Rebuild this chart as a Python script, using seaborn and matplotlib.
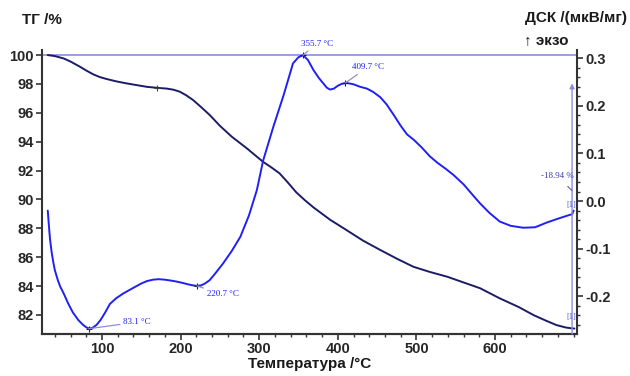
import numpy as np
import pandas as pd
import seaborn as sns
import matplotlib.pyplot as plt
from matplotlib.ticker import MultipleLocator, FormatStrFormatter

# --- данные ---
tg_temp = [31, 40, 51, 60, 72, 80, 89, 97, 106, 118, 131, 144, 157, 170, 182,
           191, 199, 207, 216, 226, 237, 250, 265, 284, 305, 316, 326, 336, 347,
           358, 369, 390, 411, 432, 454, 475, 496, 517, 539, 560, 581, 606, 630,
           649, 665, 678, 690, 698, 701]
tg_mass = [100.0, 99.93, 99.77, 99.55, 99.19, 98.93, 98.66, 98.48, 98.34, 98.18,
           98.04, 97.92, 97.8, 97.73, 97.68, 97.6, 97.46, 97.22, 96.88, 96.4,
           95.85, 95.1, 94.35, 93.55, 92.6, 92.2, 91.8, 91.2, 90.5, 89.95, 89.45,
           88.6, 87.88, 87.15, 86.5, 85.9, 85.34, 84.98, 84.65, 84.25, 83.85,
           83.15, 82.55, 81.99, 81.6, 81.3, 81.13, 81.07, 81.06]

dsc_temp = [31, 32, 33, 34, 36, 38, 40, 44, 47, 51, 57, 63, 70, 76, 80, 84, 88,
            93, 98, 104, 110, 118, 127, 140, 150, 157, 165, 172, 180, 188, 195,
            203, 210, 216, 221, 226, 231, 237, 245, 254, 265, 276, 287, 297, 305,
            318, 331, 343, 350, 356, 362, 369, 376, 382, 386, 390, 395, 400, 405,
            411, 420, 428, 437, 445, 454, 462, 471, 480, 488, 497, 507, 517, 527,
            537, 547, 560, 572, 581, 593, 606, 620, 636, 651, 666, 680, 695, 698,
            700]
dsc_val = [-0.020, -0.042, -0.063, -0.082, -0.108, -0.128, -0.145, -0.167,
           -0.180, -0.193, -0.215, -0.234, -0.250, -0.260, -0.265, -0.268,
           -0.266, -0.260, -0.250, -0.234, -0.216, -0.204, -0.194, -0.182,
           -0.173, -0.168, -0.165, -0.164, -0.165, -0.167, -0.169, -0.172,
           -0.175, -0.177, -0.178, -0.177, -0.173, -0.166, -0.150, -0.131,
           -0.105, -0.075, -0.030, 0.023, 0.085, 0.156, 0.222, 0.289, 0.302,
           0.306, 0.296, 0.275, 0.258, 0.246, 0.238, 0.234, 0.236, 0.242,
           0.246, 0.248, 0.245, 0.240, 0.236, 0.229, 0.218, 0.203, 0.181,
           0.158, 0.140, 0.128, 0.112, 0.094, 0.080, 0.068, 0.055, 0.035,
           0.012, -0.005, -0.025, -0.043, -0.052, -0.056, -0.055, -0.045,
           -0.037, -0.029, -0.028, -0.020]

peak_temp = [83.1, 220.7, 355.7, 409.7]
peak_val = [-0.268, -0.178, 0.306, 0.248]
peak_labels = ['83.1 °C', '220.7 °C', '355.7 °C', '409.7 °C']
mass_loss_label = '-18.94 %'

tg = pd.DataFrame({'T': tg_temp, 'TG': tg_mass})
dsc = pd.DataFrame({'T': dsc_temp, 'DSC': dsc_val})

sns.set_style('ticks')
plt.rcParams['font.family'] = ['Liberation Sans', 'DejaVu Sans']

navy = '#1c1c66'
blue = '#2020f4'
lav = '#8c8cdc'
serif = ['Liberation Serif', 'DejaVu Serif']

fig = plt.figure(figsize=(6.3, 3.76), dpi=100)
ax = fig.add_axes([0.0667, 0.1117, 0.8492, 0.7553])
ax2 = ax.twinx()

sns.lineplot(data=tg, x='T', y='TG', ax=ax, color=navy, linewidth=1.4)
sns.lineplot(data=dsc, x='T', y='DSC', ax=ax2, color=blue, linewidth=1.4)

ax.axhline(100, color=lav, linewidth=1.2, zorder=0)

ax.set_xlim(23.7, 704.3)
ax.set_ylim(80.68, 100.35)
ax2.set_ylim(-0.279, 0.317)

ax.xaxis.set_minor_locator(MultipleLocator(20))
ax.set_xticks([100, 200, 300, 400, 500, 600])
ax.set_yticks(np.arange(82, 101, 2))
ax2.set_yticks([-0.2, -0.1, 0.0, 0.1, 0.2, 0.3])
ax2.yaxis.set_minor_locator(MultipleLocator(0.02))
ax2.yaxis.set_major_formatter(FormatStrFormatter('%.1f'))

for a in (ax, ax2):
    a.set_xlabel('')
    a.set_ylabel('')
    a.spines['top'].set_visible(False)
    for s in a.spines.values():
        s.set_color('#333333')
        s.set_linewidth(1.5)
    a.tick_params(axis='both', which='major', length=4, width=1.2,
                  color='#333333', labelsize=10.5, pad=2)
    a.tick_params(axis='both', which='minor', length=2.5, width=1,
                  color='#333333')
    for lab in a.get_xticklabels() + a.get_yticklabels():
        lab.set_fontweight('bold')
ax2.spines['left'].set_visible(False)
ax.spines['right'].set_visible(False)

# маркеры пиков и подписи
ax2.plot(peak_temp, peak_val, linestyle='none', marker='+', color='#202020',
         markersize=5, markeredgewidth=0.8)
ax.plot([170], [97.73], linestyle='none', marker='+', color='#404040',
        markersize=5, markeredgewidth=0.8)

text_pos = [(127, -0.254), (233, -0.196), (373, 0.330), (438, 0.281)]
text_ha = ['left', 'left', 'center', 'center']
for t, v, lbl, (tx, ty), ha in zip(peak_temp, peak_val, peak_labels, text_pos, text_ha):
    ax2.annotate(lbl, xy=(t, v), xytext=(tx, ty), ha=ha, va='center',
                 fontsize=6.5, family=serif, color=blue, annotation_clip=False,
                 arrowprops=dict(arrowstyle='-', color=lav, lw=0.9,
                                 shrinkA=0, shrinkB=0))

# стрелка потери массы
ax2.annotate('', xy=(698, 0.247), xytext=(698, -0.279),
             arrowprops=dict(arrowstyle='-|>', color=lav, lw=1.0,
                             mutation_scale=7, shrinkA=0, shrinkB=0))
ax2.annotate(mass_loss_label, xy=(698, 0.022), xytext=(679, 0.052),
             ha='center', va='center', fontsize=6.5, family=serif,
             color='#3a3aa8', arrowprops=dict(arrowstyle='-', color='#6060a0',
                                              lw=0.8, shrinkA=3, shrinkB=0))
ax2.text(697, -0.008, '[1]', fontsize=6, family=serif, color='#5050cc',
         ha='center', va='center')
ax2.text(697, -0.243, '[1]', fontsize=6, family=serif, color='#5050cc',
         ha='center', va='center')

# заголовки осей
fig.text(22 / 630, 1 - 20 / 376, 'ТГ /%', fontsize=11, fontweight='bold',
         ha='left', va='center', color='#1a1a1a')
fig.text(627 / 630, 1 - 18 / 376, 'ДСК /(мкВ/мг)', fontsize=11, fontweight='bold',
         ha='right', va='center', color='#1a1a1a')
fig.text(524 / 630, 1 - 40 / 376, '↑ экзо', fontsize=11, fontweight='bold',
         ha='left', va='center', color='#1a1a1a')
fig.text(310 / 630, 1 - 364 / 376, 'Температура /°C', fontsize=11,
         fontweight='bold', ha='center', va='center', color='#1a1a1a')

fig.savefig('out.png', dpi=100)
